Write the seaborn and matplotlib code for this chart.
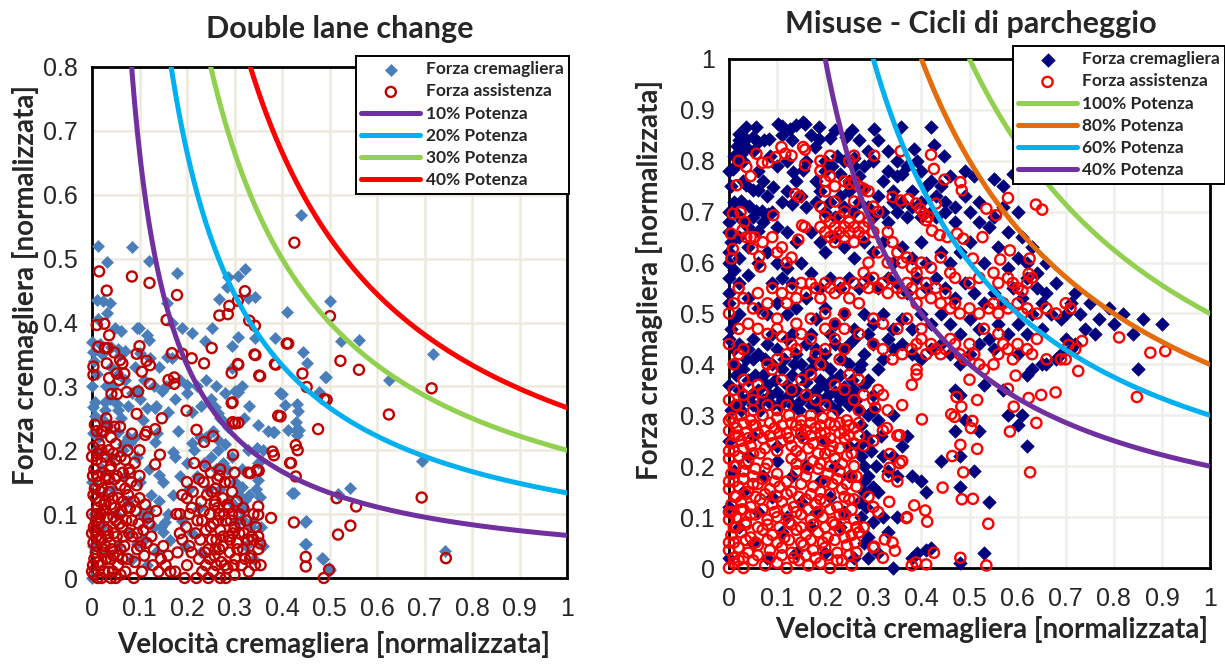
import numpy as np
import matplotlib
matplotlib.use("Agg")
import matplotlib.pyplot as plt
import seaborn as sns
from matplotlib.ticker import MultipleLocator, FuncFormatter

# ---------------- Double lane change (left) ----------------
dlc_crem_upper = [
    (0.013, 0.52), (0.084, 0.518), (0.031, 0.494), (0.121, 0.497), (0.179, 0.478), (0.01, 0.436),
    (0.024, 0.434), (0.038, 0.43), (0.031, 0.415), (0.013, 0.405), (0.157, 0.43), (0.169, 0.4),
    (0.094, 0.392), (0.098, 0.392), (0.048, 0.391), (0.062, 0.386), (0.19, 0.392), (0.21, 0.384),
    (0.252, 0.392), (0.268, 0.437), (0.287, 0.472), (0.307, 0.473), (0.322, 0.483), (0.284, 0.455),
    (0.329, 0.438), (0.343, 0.44), (0.41, 0.416), (0.501, 0.433), (0.44, 0.568), (0.0, 0.37),
    (0.002, 0.354), (0.017, 0.367), (0.041, 0.362), (0.055, 0.358), (0.069, 0.356), (0.115, 0.381),
    (0.121, 0.373), (0.101, 0.352), (0.157, 0.346), (0.169, 0.344), (0.122, 0.344), (0.238, 0.371),
    (0.295, 0.363), (0.307, 0.378), (0.343, 0.375), (0.385, 0.376), (0.445, 0.354), (0.452, 0.336),
    (0.491, 0.315), (0.294, 0.328), (0.301, 0.292), (0.307, 0.291), (0.396, 0.289), (0.406, 0.271),
    (0.432, 0.272), (0.147, 0.292), (0.199, 0.302), (0.097, 0.294), (0.006, 0.276), (0.027, 0.276),
    (0.038, 0.281), (0.259, 0.268), (0.059, 0.349), (0.562, 0.373), (0.524, 0.371), (0.625, 0.31),
    (0.718, 0.35), (0.694, 0.183), (0.744, 0.043), (0.518, 0.132), (0.544, 0.141), (0.45, 0.089),
    (0.45, 0.054), (0.487, 0.029), (0.498, 0.016), (0.492, 0.314), (0.429, 0.245), (0.429, 0.231),
    (0.435, 0.231), (0.425, 0.133), (0.384, 0.229), (0.401, 0.288), (0.433, 0.262), (0.477, 0.291),
]
dlc_crem_lower = [
    (0.115, 0.266), (0.133, 0.266), (0.382, 0.229), (0.413, 0.232), (0.431, 0.224), (0.35, 0.153),
    (0.354, 0.127), (0.42, 0.133), (0.448, 0.088), (0.448, 0.054), (0.485, 0.031), (0.501, 0.012),
    (0.329, 0.2), (0.347, 0.203), (0.315, 0.143), (0.322, 0.122), (0.171, 0.198), (0.14, 0.161),
    (0.15, 0.072), (0.154, 0.088), (0.115, 0.093), (0.119, 0.106), (0.094, 0.054), (0.21, 0.211),
    (0.227, 0.221), (0.266, 0.216), (0.287, 0.237), (0.301, 0.112), (0.315, 0.106), (0.315, 0.092),
    (0.336, 0.088), (0.266, 0.258), (0.273, 0.247), (0.076, 0.221), (0.08, 0.211), (0.055, 0.229),
    (0.066, 0.2), (0.027, 0.263), (0.006, 0.253), (0.003, 0.227), (0.024, 0.247), (0.003, 0.268),
    (0.052, 0.273), (0.055, 0.263), (0.108, 0.247), (0.133, 0.213), (0.136, 0.227),
    (0.0, 0.0), (0.002, 0.05), (0.005, 0.1), (0.0, 0.15), (0.008, 0.2), (0.015, 0.22), (0.02, 0.17),
    (0.025, 0.13), (0.018, 0.08), (0.03, 0.04), (0.035, 0.24), (0.04, 0.19), (0.045, 0.14),
    (0.05, 0.1), (0.055, 0.05), (0.06, 0.25), (0.065, 0.21), (0.07, 0.16), (0.075, 0.12),
    (0.08, 0.07), (0.085, 0.03), (0.09, 0.22), (0.095, 0.19), (0.1, 0.15), (0.105, 0.1),
    (0.11, 0.06), (0.115, 0.02), (0.12, 0.17), (0.125, 0.13), (0.13, 0.08), (0.135, 0.04),
    (0.14, 0.12), (0.145, 0.08), (0.15, 0.15), (0.16, 0.1), (0.165, 0.06), (0.17, 0.13),
    (0.175, 0.19), (0.18, 0.23), (0.185, 0.16), (0.19, 0.09), (0.195, 0.05), (0.2, 0.18),
    (0.205, 0.14), (0.21, 0.07), (0.215, 0.2), (0.22, 0.16), (0.225, 0.11), (0.23, 0.04),
    (0.235, 0.18), (0.24, 0.22), (0.245, 0.14), (0.25, 0.19), (0.255, 0.23), (0.26, 0.17),
    (0.265, 0.2), (0.27, 0.14), (0.275, 0.18), (0.28, 0.21), (0.285, 0.17), (0.29, 0.12),
    (0.295, 0.19), (0.3, 0.15), (0.305, 0.09), (0.31, 0.13), (0.315, 0.17), (0.32, 0.11),
    (0.325, 0.05), (0.33, 0.13), (0.335, 0.08), (0.34, 0.03), (0.345, 0.14), (0.35, 0.18),
    (0.355, 0.08), (0.36, 0.05), (0.0, 0.3), (0.01, 0.32), (0.02, 0.35), (0.005, 0.34),
    (0.03, 0.3), (0.04, 0.33), (0.045, 0.3), (0.055, 0.32), (0.07, 0.31), (0.075, 0.27),
    (0.085, 0.29), (0.09, 0.33), (0.1, 0.28), (0.11, 0.31), (0.13, 0.3), (0.135, 0.27),
    (0.14, 0.33), (0.155, 0.3), (0.16, 0.26), (0.175, 0.28), (0.185, 0.31), (0.2, 0.29),
    (0.21, 0.26), (0.22, 0.3), (0.23, 0.27), (0.24, 0.31), (0.25, 0.28), (0.26, 0.3),
    (0.27, 0.25), (0.28, 0.29), (0.32, 0.25), (0.315, 0.3), (0.33, 0.27), (0.35, 0.24),
    (0.36, 0.2), (0.37, 0.23),
]
dlc_assist_upper = [
    (0.015, 0.48), (0.084, 0.472), (0.121, 0.462), (0.031, 0.45), (0.179, 0.443), (0.426, 0.525),
    (0.157, 0.404), (0.01, 0.396), (0.026, 0.398), (0.036, 0.38), (0.322, 0.449), (0.307, 0.434),
    (0.289, 0.426), (0.268, 0.411), (0.286, 0.413), (0.331, 0.403), (0.343, 0.395), (0.501, 0.41),
    (0.013, 0.362), (0.027, 0.36), (0.033, 0.36), (0.047, 0.353), (0.059, 0.341), (0.064, 0.336),
    (0.1, 0.363), (0.094, 0.351), (0.115, 0.34), (0.122, 0.333), (0.031, 0.336), (0.003, 0.331),
    (0.003, 0.318), (0.036, 0.313), (0.052, 0.32), (0.068, 0.32), (0.057, 0.31), (0.105, 0.323),
    (0.122, 0.304), (0.097, 0.292), (0.041, 0.288), (0.053, 0.288), (0.073, 0.291), (0.168, 0.352),
    (0.19, 0.351), (0.21, 0.344), (0.236, 0.336), (0.252, 0.36), (0.161, 0.31), (0.173, 0.314),
    (0.173, 0.304), (0.294, 0.321), (0.307, 0.335), (0.342, 0.35), (0.352, 0.317), (0.385, 0.335),
    (0.41, 0.367), (0.443, 0.32), (0.452, 0.299), (0.489, 0.28), (0.294, 0.274), (0.745, 0.031),
    (0.694, 0.126), (0.715, 0.297), (0.625, 0.256), (0.562, 0.326), (0.523, 0.34), (0.494, 0.279),
    (0.476, 0.233), (0.429, 0.208), (0.433, 0.2), (0.419, 0.18), (0.429, 0.159), (0.383, 0.192),
    (0.397, 0.253), (0.387, 0.334), (0.413, 0.367), (0.354, 0.316), (0.344, 0.349), (0.296, 0.275),
    (0.296, 0.244), (0.308, 0.334), (0.297, 0.193), (0.425, 0.087), (0.45, 0.033), (0.45, 0.018),
    (0.488, 0.0), (0.499, 0.013), (0.518, 0.068), (0.515, 0.125), (0.556, 0.112), (0.544, 0.082),
    (0.377, 0.094), (0.351, 0.168), (0.334, 0.164), (0.094, 0.257), (0.147, 0.25), (0.199, 0.262),
    (0.392, 0.254), (0.417, 0.18), (0.38, 0.198), (0.301, 0.242), (0.308, 0.243), (0.22, 0.232),
    (0.236, 0.213), (0.255, 0.222), (0.143, 0.193), (0.133, 0.178), (0.112, 0.224), (0.115, 0.229),
    (0.133, 0.233), (0.347, 0.169), (0.329, 0.165), (0.35, 0.112), (0.35, 0.099), (0.354, 0.054),
    (0.336, 0.065), (0.343, 0.02), (0.333, 0.031), (0.006, 0.24), (0.024, 0.229), (0.031, 0.237),
    (0.047, 0.237), (0.059, 0.237), (0.084, 0.226),
]
dlc_assist_low_a = [
    (0.0, 0.01), (0.005, 0.03), (0.01, 0.05), (0.0, 0.07), (0.008, 0.09), (0.012, 0.11), (0.003, 0.13),
    (0.015, 0.15), (0.005, 0.17), (0.0, 0.19), (0.018, 0.02), (0.022, 0.04), (0.02, 0.06), (0.025, 0.08),
    (0.018, 0.1), (0.028, 0.12), (0.022, 0.14), (0.03, 0.16), (0.02, 0.18), (0.035, 0.2), (0.035, 0.01),
    (0.04, 0.03), (0.038, 0.055), (0.032, 0.075), (0.045, 0.095), (0.04, 0.115), (0.036, 0.135),
    (0.048, 0.155), (0.04, 0.175), (0.045, 0.195), (0.05, 0.0), (0.055, 0.02), (0.06, 0.045),
    (0.052, 0.065), (0.058, 0.085), (0.062, 0.105), (0.055, 0.125), (0.06, 0.145), (0.065, 0.165),
    (0.07, 0.185), (0.07, 0.01), (0.075, 0.03), (0.068, 0.05), (0.078, 0.07), (0.072, 0.09),
    (0.08, 0.11), (0.076, 0.13), (0.082, 0.15), (0.078, 0.17), (0.088, 0.0), (0.09, 0.025),
    (0.095, 0.045), (0.085, 0.065), (0.098, 0.085), (0.092, 0.105), (0.1, 0.125), (0.094, 0.145),
    (0.1, 0.16), (0.105, 0.01), (0.11, 0.035), (0.115, 0.055), (0.108, 0.075), (0.118, 0.095),
    (0.112, 0.115), (0.12, 0.085), (0.128, 0.02), (0.13, 0.045), (0.125, 0.065), (0.135, 0.105),
    (0.14, 0.01), (0.145, 0.03), (0.15, 0.05), (0.155, 0.02), (0.16, 0.035), (0.165, 0.01),
    (0.002, 0.02), (0.008, 0.04), (0.014, 0.06), (0.004, 0.08), (0.01, 0.1), (0.016, 0.12),
    (0.006, 0.14), (0.012, 0.16), (0.026, 0.01), (0.03, 0.03), (0.028, 0.05), (0.012, 0.0),
    (0.032, 0.095), (0.042, 0.045), (0.046, 0.07), (0.05, 0.09), (0.015, 0.085), (0.024, 0.105),
    (0.003, 0.055), (0.009, 0.065), (0.0, 0.1), (0.02, 0.0), (0.04, 0.0), (0.06, 0.005),
    (0.065, 0.065), (0.043, 0.125), (0.01, 0.185), (0.02, 0.2), (0.003, 0.205), (0.015, 0.21),
    (0.01, 0.23), (0.04, 0.22), (0.05, 0.185), (0.06, 0.19), (0.075, 0.2), (0.08, 0.165),
    (0.09, 0.18), (0.1, 0.2),
    (0.004, 0.005), (0.014, 0.025), (0.024, 0.045), (0.034, 0.065), (0.006, 0.075), (0.016, 0.095),
    (0.026, 0.115), (0.036, 0.155), (0.008, 0.125), (0.018, 0.135), (0.028, 0.155), (0.002, 0.16),
    (0.044, 0.01), (0.054, 0.035), (0.064, 0.03), (0.048, 0.11), (0.058, 0.1), (0.066, 0.12),
    (0.07, 0.14), (0.038, 0.17), (0.026, 0.19), (0.012, 0.195), (0.052, 0.16), (0.084, 0.09),
    (0.074, 0.11), (0.088, 0.12), (0.095, 0.07), (0.102, 0.05), (0.064, 0.08), (0.045, 0.035),
    (0.02, 0.23), (0.03, 0.25), (0.05, 0.21),
]
dlc_assist_low_b = [
    (0.175, 0.01), (0.18, 0.04), (0.185, 0.07), (0.178, 0.1), (0.19, 0.13), (0.2, 0.02), (0.205, 0.05),
    (0.198, 0.08), (0.21, 0.11), (0.2, 0.15), (0.215, 0.18), (0.22, 0.0), (0.225, 0.03), (0.228, 0.06),
    (0.222, 0.09), (0.23, 0.12), (0.235, 0.15), (0.24, 0.02), (0.245, 0.045), (0.24, 0.075),
    (0.248, 0.1), (0.242, 0.13), (0.25, 0.165), (0.255, 0.01), (0.258, 0.035), (0.262, 0.06),
    (0.256, 0.085), (0.265, 0.11), (0.26, 0.14), (0.268, 0.16), (0.27, 0.0), (0.272, 0.025),
    (0.275, 0.05), (0.27, 0.075), (0.278, 0.1), (0.275, 0.125), (0.28, 0.15), (0.285, 0.015),
    (0.29, 0.04), (0.288, 0.065), (0.292, 0.09), (0.285, 0.115), (0.295, 0.135), (0.3, 0.005),
    (0.302, 0.03), (0.305, 0.055), (0.3, 0.08), (0.31, 0.1), (0.305, 0.12), (0.315, 0.02),
    (0.318, 0.045), (0.32, 0.07), (0.325, 0.09), (0.33, 0.01), (0.335, 0.035), (0.34, 0.06),
    (0.345, 0.08), (0.35, 0.045), (0.34, 0.1), (0.355, 0.02), (0.35, 0.065), (0.21, 0.04),
    (0.25, 0.08), (0.26, 0.12), (0.265, 0.09), (0.29, 0.06), (0.28, 0.02), (0.295, 0.1),
    (0.31, 0.07), (0.235, 0.105), (0.26, 0.045), (0.245, 0.0), (0.195, 0.0), (0.205, 0.1),
    (0.29, 0.15), (0.3, 0.165), (0.27, 0.17),
    (0.232, 0.01), (0.238, 0.04), (0.252, 0.06), (0.248, 0.03), (0.262, 0.02), (0.268, 0.045),
    (0.276, 0.065), (0.282, 0.09), (0.288, 0.11), (0.268, 0.1), (0.258, 0.115), (0.252, 0.135),
    (0.264, 0.155), (0.296, 0.07), (0.306, 0.045), (0.312, 0.085), (0.298, 0.02), (0.282, 0.0),
    (0.232, 0.09), (0.218, 0.07), (0.212, 0.135), (0.225, 0.155), (0.238, 0.175), (0.19, 0.06),
    (0.185, 0.1), (0.2, 0.125), (0.322, 0.03), (0.328, 0.06), (0.318, 0.11),
]
dlc_power = ["10% Potenza", "20% Potenza", "30% Potenza", "40% Potenza"]
dlc_force_at_full_speed = [0.0667, 0.1333, 0.2, 0.2667]
dlc_colors = ["#7030A0", "#00B0F0", "#92D050", "#FF0000"]

# ---------------- Misuse - Cicli di parcheggio (right) ----------------
mis_crem_top = [
    (0.02, 0.853), (0.036, 0.866), (0.057, 0.867), (0.101, 0.873), (0.11, 0.869), (0.126, 0.863),
    (0.154, 0.876), (0.158, 0.873), (0.187, 0.867), (0.255, 0.861), (0.302, 0.863), (0.358, 0.867),
    (0.42, 0.866), (0.426, 0.832), (0.448, 0.81), (0.385, 0.824), (0.243, 0.846), (0.211, 0.845),
    (0.187, 0.843), (0.178, 0.827), (0.036, 0.843), (0.049, 0.846), (0.061, 0.837), (0.073, 0.841),
    (0.083, 0.843), (0.016, 0.83), (0.024, 0.814), (0.036, 0.827), (0.008, 0.784), (0.016, 0.794),
    (0.134, 0.778), (0.154, 0.781), (0.2, 0.8), (0.215, 0.79), (0.225, 0.81), (0.24, 0.8),
    (0.26, 0.805), (0.28, 0.79), (0.3, 0.8), (0.27, 0.77), (0.25, 0.76), (0.23, 0.775),
    (0.33, 0.78), (0.35, 0.77), (0.36, 0.775), (0.37, 0.79), (0.39, 0.8), (0.4, 0.78),
    (0.42, 0.76), (0.44, 0.75), (0.46, 0.77), (0.49, 0.78), (0.51, 0.77), (0.55, 0.765),
    (0.57, 0.75), (0.59, 0.775), (0.62, 0.78), (0.1, 0.79), (0.12, 0.8), (0.085, 0.81),
    (0.005, 0.47), (0.01, 0.49), (0.0, 0.54), (0.01, 0.585), (0.0, 0.62), (0.005, 0.64), (0.0, 0.7),
    (0.01, 0.72), (0.005, 0.75), (0.0, 0.78), (0.01, 0.81), (0.02, 0.84), (0.03, 0.8), (0.05, 0.82),
    (0.06, 0.78), (0.07, 0.76), (0.08, 0.73), (0.03, 0.76), (0.02, 0.65), (0.05, 0.69), (0.07, 0.68),
    (0.09, 0.7), (0.12, 0.74), (0.14, 0.76), (0.16, 0.8), (0.17, 0.85), (0.13, 0.84), (0.11, 0.85),
    (0.14, 0.87), (0.22, 0.86), (0.27, 0.84), (0.29, 0.82), (0.31, 0.84), (0.33, 0.82), (0.35, 0.8),
    (0.18, 0.76), (0.2, 0.78), (0.26, 0.79), (0.32, 0.76), (0.34, 0.74), (0.36, 0.72), (0.38, 0.74),
    (0.4, 0.72), (0.41, 0.75), (0.43, 0.73), (0.45, 0.72), (0.47, 0.71), (0.49, 0.73), (0.52, 0.72),
    (0.54, 0.67), (0.58, 0.66), (0.61, 0.65), (0.63, 0.63), (0.62, 0.57), (0.64, 0.55), (0.66, 0.54),
    (0.7, 0.5), (0.74, 0.47), (0.76, 0.46), (0.8, 0.48), (0.84, 0.46),
]
mis_crem_mid = [
    (0.036, 0.752), (0.049, 0.742), (0.061, 0.742), (0.092, 0.748), (0.024, 0.722), (0.041, 0.712),
    (0.057, 0.702), (0.069, 0.702), (0.081, 0.696), (0.016, 0.696), (0.028, 0.683), (0.04, 0.67),
    (0.06, 0.663), (0.0, 0.68), (0.0, 0.66), (0.11, 0.72), (0.13, 0.715), (0.15, 0.73), (0.16, 0.71),
    (0.18, 0.72), (0.19, 0.74), (0.2, 0.7), (0.21, 0.72), (0.22, 0.69), (0.23, 0.73), (0.24, 0.71),
    (0.25, 0.74), (0.26, 0.7), (0.27, 0.72), (0.28, 0.745), (0.29, 0.71), (0.3, 0.69), (0.31, 0.73),
    (0.32, 0.7), (0.33, 0.68), (0.34, 0.72), (0.35, 0.7), (0.37, 0.69), (0.38, 0.71), (0.4, 0.69),
    (0.42, 0.7), (0.43, 0.69), (0.45, 0.7), (0.47, 0.68), (0.5, 0.7), (0.52, 0.68), (0.55, 0.69),
    (0.57, 0.71), (0.6, 0.7), (0.1, 0.67), (0.12, 0.66), (0.14, 0.64), (0.17, 0.66), (0.19, 0.64),
    (0.2, 0.62), (0.22, 0.65), (0.24, 0.63), (0.26, 0.61), (0.28, 0.64), (0.3, 0.62), (0.32, 0.64),
    (0.34, 0.6), (0.36, 0.63), (0.38, 0.61), (0.4, 0.64), (0.41, 0.6), (0.44, 0.62), (0.46, 0.6),
    (0.48, 0.62), (0.5, 0.64), (0.53, 0.6), (0.56, 0.63), (0.58, 0.59), (0.6, 0.61), (0.62, 0.6),
    (0.64, 0.58), (0.66, 0.6), (0.08, 0.62), (0.06, 0.6), (0.04, 0.63), (0.02, 0.61), (0.0, 0.6),
    (0.1, 0.6), (0.12, 0.59), (0.15, 0.6), (0.17, 0.58), (0.09, 0.56), (0.11, 0.57), (0.13, 0.56),
    (0.0, 0.57), (0.02, 0.56), (0.04, 0.575),
    (0.19, 0.55), (0.21, 0.57), (0.23, 0.55), (0.25, 0.57), (0.27, 0.55), (0.29, 0.57), (0.31, 0.55),
    (0.33, 0.57), (0.35, 0.56), (0.37, 0.54), (0.39, 0.57), (0.41, 0.55), (0.43, 0.57), (0.45, 0.55),
    (0.47, 0.53), (0.49, 0.56), (0.51, 0.54), (0.53, 0.52), (0.55, 0.54), (0.57, 0.52), (0.59, 0.55),
    (0.61, 0.53), (0.63, 0.5), (0.65, 0.52), (0.67, 0.5), (0.69, 0.49), (0.71, 0.52), (0.73, 0.5),
    (0.75, 0.52), (0.77, 0.49), (0.79, 0.51), (0.82, 0.5), (0.86, 0.49), (0.9, 0.48), (0.68, 0.56),
    (0.72, 0.54), (0.0, 0.52), (0.02, 0.5), (0.04, 0.53), (0.06, 0.51), (0.08, 0.5), (0.1, 0.52),
    (0.12, 0.5), (0.14, 0.51), (0.16, 0.53), (0.18, 0.49), (0.2, 0.51), (0.22, 0.48), (0.24, 0.5),
    (0.26, 0.47), (0.28, 0.5), (0.3, 0.48), (0.32, 0.5), (0.34, 0.47), (0.36, 0.49), (0.38, 0.47),
    (0.4, 0.5), (0.42, 0.48), (0.44, 0.5), (0.46, 0.48), (0.48, 0.46), (0.5, 0.49), (0.52, 0.47),
    (0.54, 0.45), (0.56, 0.48), (0.58, 0.46), (0.6, 0.48), (0.62, 0.46), (0.65, 0.47), (0.7, 0.45),
    (0.72, 0.44), (0.85, 0.39),
]
mis_crem_low = [
    (0.0, 0.45), (0.02, 0.44), (0.04, 0.43), (0.06, 0.42), (0.08, 0.44), (0.1, 0.43), (0.12, 0.45),
    (0.14, 0.42), (0.16, 0.44), (0.18, 0.43), (0.2, 0.42), (0.22, 0.44), (0.24, 0.43), (0.26, 0.45),
    (0.28, 0.42), (0.3, 0.44), (0.32, 0.41), (0.34, 0.43), (0.36, 0.44), (0.38, 0.42), (0.4, 0.41),
    (0.42, 0.43), (0.44, 0.44), (0.46, 0.42), (0.48, 0.4), (0.5, 0.42), (0.52, 0.44), (0.55, 0.43),
    (0.6, 0.42), (0.65, 0.4), (0.01, 0.4), (0.03, 0.39), (0.05, 0.41), (0.07, 0.38), (0.09, 0.4),
    (0.11, 0.39), (0.13, 0.38), (0.15, 0.4), (0.17, 0.39), (0.19, 0.37), (0.21, 0.39), (0.23, 0.38),
    (0.25, 0.4), (0.27, 0.39), (0.29, 0.37), (0.31, 0.39), (0.0, 0.36), (0.02, 0.35), (0.04, 0.37),
    (0.06, 0.35), (0.08, 0.36), (0.1, 0.345), (0.12, 0.36), (0.14, 0.35), (0.16, 0.365), (0.18, 0.35),
    (0.2, 0.36), (0.22, 0.345), (0.24, 0.355), (0.26, 0.35), (0.28, 0.36), (0.3, 0.34), (0.01, 0.32),
    (0.03, 0.33), (0.05, 0.32), (0.07, 0.33), (0.09, 0.32), (0.11, 0.33), (0.13, 0.32), (0.15, 0.33),
    (0.17, 0.32), (0.19, 0.33), (0.21, 0.32), (0.23, 0.33), (0.25, 0.32), (0.27, 0.31), (0.29, 0.3),
    (0.31, 0.29), (0.3, 0.31), (0.34, 0.3), (0.37, 0.26), (0.36, 0.24), (0.34, 0.22), (0.33, 0.19),
    (0.35, 0.18), (0.38, 0.18), (0.4, 0.17), (0.41, 0.15), (0.3, 0.16), (0.31, 0.15), (0.32, 0.1),
    (0.33, 0.07), (0.35, 0.1), (0.3, 0.09), (0.29, 0.06), (0.28, 0.2), (0.27, 0.24), (0.47, 0.35),
    (0.48, 0.34), (0.47, 0.27), (0.49, 0.29), (0.44, 0.21), (0.48, 0.16), (0.48, 0.22), (0.51, 0.19),
    (0.52, 0.27), (0.53, 0.36), (0.54, 0.13), (0.53, 0.03), (0.39, 0.03), (0.38, 0.02), (0.41, 0.035),
    (0.42, 0.04), (0.48, 0.01), (0.34, 0.0), (0.62, 0.24), (0.6, 0.28), (0.61, 0.3), (0.58, 0.3),
    (0.57, 0.35), (0.63, 0.39), (0.62, 0.38), (0.66, 0.4), (0.68, 0.41), (0.69, 0.42), (0.71, 0.43),
    (0.0, 0.02), (0.02, 0.08), (0.05, 0.05), (0.08, 0.02), (0.11, 0.07), (0.14, 0.03), (0.17, 0.08),
    (0.2, 0.03), (0.23, 0.08), (0.26, 0.02), (0.28, 0.05), (0.0, 0.12), (0.03, 0.15), (0.06, 0.11),
    (0.09, 0.14), (0.12, 0.1), (0.15, 0.13), (0.18, 0.11), (0.21, 0.14), (0.24, 0.11), (0.27, 0.13),
    (0.01, 0.19), (0.04, 0.22), (0.07, 0.18), (0.1, 0.21), (0.13, 0.18), (0.16, 0.2), (0.19, 0.17),
    (0.22, 0.2), (0.25, 0.18), (0.28, 0.17), (0.0, 0.25), (0.05, 0.26), (0.1, 0.24), (0.15, 0.26),
    (0.2, 0.25), (0.25, 0.24), (0.29, 0.25),
    (0.005, 0.31), (0.025, 0.31), (0.045, 0.34), (0.065, 0.31), (0.085, 0.34), (0.105, 0.32),
    (0.125, 0.34), (0.145, 0.31), (0.165, 0.34), (0.185, 0.31), (0.205, 0.34), (0.225, 0.31),
    (0.245, 0.34), (0.265, 0.33), (0.015, 0.38), (0.035, 0.41), (0.055, 0.38), (0.075, 0.41),
    (0.095, 0.37), (0.115, 0.41), (0.135, 0.4), (0.155, 0.38), (0.175, 0.41), (0.195, 0.4),
    (0.215, 0.37), (0.235, 0.41), (0.255, 0.37), (0.275, 0.4), (0.01, 0.43), (0.05, 0.45),
    (0.09, 0.46), (0.13, 0.46), (0.17, 0.46), (0.21, 0.46), (0.25, 0.44), (0.29, 0.46), (0.33, 0.45),
    (0.275, 0.28), (0.285, 0.26), (0.295, 0.23), (0.275, 0.22), (0.29, 0.18), (0.28, 0.15),
    (0.285, 0.12), (0.275, 0.1), (0.29, 0.02), (0.31, 0.03), (0.305, 0.2), (0.32, 0.22), (0.315, 0.26),
]
mis_assist_top = [
    (0.02, 0.8), (0.016, 0.752), (0.008, 0.696), (0.004, 0.657), (0.008, 0.627), (0.005, 0.608),
    (0.024, 0.699), (0.032, 0.68), (0.028, 0.663), (0.036, 0.65), (0.045, 0.65), (0.053, 0.65),
    (0.049, 0.627), (0.063, 0.612), (0.065, 0.592), (0.057, 0.814), (0.036, 0.788), (0.045, 0.77),
    (0.069, 0.796), (0.081, 0.797), (0.097, 0.807), (0.109, 0.827), (0.117, 0.814), (0.13, 0.81),
    (0.092, 0.693), (0.138, 0.735), (0.146, 0.729), (0.144, 0.645), (0.154, 0.827), (0.158, 0.822),
    (0.158, 0.791), (0.152, 0.673), (0.158, 0.67), (0.19, 0.8), (0.19, 0.78), (0.2, 0.76),
    (0.21, 0.77), (0.2, 0.74), (0.22, 0.75), (0.24, 0.76), (0.25, 0.755), (0.26, 0.76), (0.27, 0.75),
    (0.28, 0.745), (0.29, 0.74), (0.21, 0.81), (0.25, 0.8), (0.26, 0.81), (0.19, 0.71), (0.2, 0.69),
    (0.19, 0.67), (0.21, 0.68), (0.2, 0.66), (0.21, 0.65), (0.22, 0.67), (0.22, 0.64), (0.23, 0.66),
    (0.23, 0.69), (0.24, 0.67), (0.24, 0.65), (0.25, 0.68), (0.25, 0.66), (0.26, 0.64), (0.26, 0.67),
    (0.27, 0.66), (0.27, 0.69), (0.28, 0.67), (0.28, 0.65), (0.29, 0.68), (0.3, 0.66), (0.24, 0.7),
    (0.26, 0.72), (0.22, 0.72), (0.3, 0.71), (0.31, 0.7), (0.302, 0.81), (0.357, 0.819), (0.42, 0.812),
    (0.426, 0.784), (0.448, 0.763), (0.481, 0.758), (0.484, 0.742), (0.535, 0.706), (0.555, 0.693),
    (0.58, 0.727), (0.638, 0.714), (0.651, 0.704), (0.34, 0.729), (0.357, 0.722), (0.373, 0.725),
    (0.389, 0.716), (0.397, 0.706), (0.405, 0.696), (0.414, 0.69), (0.43, 0.716), (0.41, 0.683),
    (0.422, 0.663), (0.438, 0.654), (0.454, 0.65), (0.474, 0.657), (0.487, 0.647), (0.527, 0.65),
    (0.507, 0.608), (0.564, 0.606), (0.584, 0.624), (0.625, 0.608), (0.623, 0.578), (0.33, 0.66),
    (0.34, 0.64), (0.35, 0.62), (0.36, 0.6), (0.37, 0.61), (0.38, 0.59), (0.39, 0.58), (0.4, 0.6),
    (0.42, 0.59), (0.44, 0.61), (0.46, 0.58), (0.33, 0.6), (0.31, 0.62), (0.29, 0.6), (0.28, 0.58),
    (0.1, 0.62), (0.12, 0.6), (0.13, 0.61), (0.07, 0.64), (0.09, 0.65), (0.11, 0.63),
]
mis_assist_band = [
    (0.0, 0.5), (0.01, 0.52), (0.02, 0.55), (0.03, 0.53), (0.05, 0.51), (0.06, 0.54), (0.07, 0.5),
    (0.08, 0.52), (0.09, 0.55), (0.11, 0.54), (0.12, 0.52), (0.13, 0.55), (0.14, 0.53), (0.15, 0.56),
    (0.16, 0.54), (0.17, 0.56), (0.18, 0.55), (0.19, 0.53), (0.2, 0.56), (0.21, 0.55), (0.22, 0.54),
    (0.23, 0.56), (0.24, 0.55), (0.25, 0.53), (0.26, 0.56), (0.27, 0.52), (0.28, 0.56), (0.29, 0.55),
    (0.3, 0.57), (0.31, 0.55), (0.32, 0.56), (0.33, 0.54), (0.34, 0.57), (0.35, 0.55), (0.36, 0.54),
    (0.37, 0.56), (0.38, 0.55), (0.39, 0.52), (0.4, 0.54), (0.41, 0.56), (0.42, 0.53), (0.43, 0.55),
    (0.44, 0.52), (0.45, 0.54), (0.46, 0.51), (0.47, 0.52), (0.48, 0.5), (0.5, 0.51), (0.52, 0.5),
    (0.54, 0.51), (0.55, 0.52), (0.56, 0.5), (0.57, 0.52), (0.58, 0.51), (0.6, 0.52), (0.61, 0.5),
    (0.62, 0.51), (0.64, 0.5), (0.66, 0.51), (0.68, 0.5), (0.7, 0.52), (0.71, 0.51), (0.55, 0.58),
    (0.56, 0.56), (0.58, 0.57), (0.59, 0.56), (0.6, 0.55), (0.61, 0.545), (0.62, 0.56), (0.63, 0.57),
    (0.52, 0.57), (0.5, 0.56), (0.47, 0.57), (0.2, 0.5), (0.22, 0.48), (0.24, 0.5), (0.17, 0.49),
    (0.14, 0.48), (0.1, 0.49), (0.04, 0.48), (0.02, 0.47), (0.37, 0.49), (0.4, 0.47), (0.35, 0.47),
    (0.32, 0.48), (0.53, 0.47), (0.56, 0.46), (0.3, 0.49),
]
mis_assist_mid = [
    (0.01, 0.4), (0.02, 0.42), (0.0, 0.44), (0.03, 0.43), (0.03, 0.37), (0.04, 0.355), (0.06, 0.36),
    (0.07, 0.345), (0.09, 0.39), (0.1, 0.41), (0.08, 0.4), (0.12, 0.42), (0.13, 0.44), (0.11, 0.455),
    (0.14, 0.43), (0.15, 0.46), (0.17, 0.45), (0.18, 0.42), (0.19, 0.4), (0.2, 0.43), (0.22, 0.45),
    (0.24, 0.43), (0.23, 0.41), (0.25, 0.38), (0.27, 0.37), (0.11, 0.37), (0.13, 0.35), (0.15, 0.37),
    (0.17, 0.38), (0.16, 0.34), (0.18, 0.33), (0.2, 0.32), (0.22, 0.36), (0.24, 0.35), (0.26, 0.33),
    (0.28, 0.34), (0.3, 0.33), (0.32, 0.34), (0.33, 0.31), (0.27, 0.31), (0.08, 0.32), (0.1, 0.31),
    (0.12, 0.32), (0.05, 0.31), (0.06, 0.47), (0.08, 0.46), (0.1, 0.47), (0.2, 0.47), (0.24, 0.47),
    (0.27, 0.46), (0.3, 0.44), (0.32, 0.43), (0.31, 0.35), (0.34, 0.41), (0.36, 0.42), (0.38, 0.43),
    (0.39, 0.44), (0.4, 0.45), (0.41, 0.42), (0.42, 0.44), (0.43, 0.43), (0.44, 0.42), (0.45, 0.43),
    (0.46, 0.45), (0.47, 0.44), (0.48, 0.42), (0.49, 0.41), (0.5, 0.44), (0.52, 0.4), (0.51, 0.42),
    (0.53, 0.39), (0.55, 0.4), (0.56, 0.42), (0.57, 0.44), (0.58, 0.43), (0.59, 0.41), (0.6, 0.44),
    (0.62, 0.43), (0.63, 0.42), (0.64, 0.45), (0.66, 0.41), (0.69, 0.41), (0.7, 0.41), (0.72, 0.43),
    (0.726, 0.387), (0.811, 0.453), (0.848, 0.336), (0.876, 0.423), (0.907, 0.426), (0.734, 0.446),
    (0.706, 0.438), (0.679, 0.345), (0.649, 0.34), (0.639, 0.285), (0.626, 0.188), (0.623, 0.334),
    (0.584, 0.268), (0.592, 0.317), (0.58, 0.352), (0.596, 0.378), (0.516, 0.33), (0.516, 0.234),
    (0.507, 0.136), (0.484, 0.135), (0.487, 0.188), (0.481, 0.242), (0.469, 0.297), (0.462, 0.302),
    (0.473, 0.336), (0.483, 0.317), (0.506, 0.289), (0.503, 0.275), (0.5, 0.37), (0.539, 0.087),
    (0.535, 0.005), (0.444, 0.158), (0.464, 0.22), (0.481, 0.02), (0.426, 0.03), (0.41, 0.007),
    (0.389, 0.011), (0.38, 0.005), (0.412, 0.091), (0.408, 0.113), (0.385, 0.123), (0.369, 0.098),
    (0.401, 0.292), (0.355, 0.261), (0.355, 0.206), (0.334, 0.224), (0.334, 0.197), (0.333, 0.13),
    (0.302, 0.042), (0.324, 0.056), (0.345, 0.034), (0.328, 0.275), (0.304, 0.315), (0.39, 0.39),
    (0.39, 0.38), (0.38, 0.36), (0.36, 0.32), (0.35, 0.26), (0.36, 0.21), (0.35, 0.17), (0.33, 0.18),
    (0.32, 0.27), (0.3, 0.25), (0.28, 0.24), (0.3, 0.12), (0.29, 0.14), (0.31, 0.11), (0.28, 0.08),
    (0.27, 0.07), (0.3, 0.04), (0.34, 0.05), (0.32, 0.02), (0.37, 0.1),
]
mis_assist_core = [
    (0.0, 0.0), (0.01, 0.01), (0.03, 0.0), (0.05, 0.015), (0.075, 0.005), (0.1, 0.01), (0.12, 0.0),
    (0.145, 0.015), (0.165, 0.005), (0.19, 0.01), (0.21, 0.0), (0.235, 0.015), (0.255, 0.005),
    (0.265, 0.03), (0.0, 0.035), (0.02, 0.04), (0.04, 0.03), (0.06, 0.045), (0.085, 0.035),
    (0.11, 0.04), (0.13, 0.03), (0.155, 0.045), (0.175, 0.035), (0.2, 0.04), (0.225, 0.03),
    (0.245, 0.045), (0.005, 0.065), (0.025, 0.07), (0.045, 0.06), (0.07, 0.075), (0.09, 0.065),
    (0.115, 0.06), (0.14, 0.075), (0.16, 0.065), (0.185, 0.07), (0.205, 0.06), (0.23, 0.075),
    (0.255, 0.065), (0.0, 0.095), (0.015, 0.1), (0.035, 0.09), (0.055, 0.105), (0.08, 0.095),
    (0.1, 0.1), (0.125, 0.09), (0.15, 0.105), (0.17, 0.095), (0.195, 0.1), (0.215, 0.09),
    (0.24, 0.105), (0.26, 0.095), (0.005, 0.125), (0.025, 0.13), (0.045, 0.12), (0.065, 0.135),
    (0.09, 0.125), (0.11, 0.13), (0.135, 0.12), (0.16, 0.135), (0.18, 0.125), (0.2, 0.13),
    (0.225, 0.12), (0.25, 0.135), (0.0, 0.155), (0.02, 0.16), (0.04, 0.15), (0.06, 0.165),
    (0.085, 0.155), (0.105, 0.16), (0.13, 0.15), (0.175, 0.16), (0.19, 0.15), (0.215, 0.165),
    (0.235, 0.155), (0.265, 0.16), (0.005, 0.185), (0.03, 0.19), (0.05, 0.18), (0.075, 0.195),
    (0.1, 0.185), (0.14, 0.19), (0.16, 0.18), (0.185, 0.195), (0.205, 0.185), (0.23, 0.19),
    (0.255, 0.18), (0.0, 0.215), (0.02, 0.22), (0.04, 0.21), (0.065, 0.225), (0.13, 0.215),
    (0.15, 0.22), (0.175, 0.21), (0.2, 0.225), (0.22, 0.215), (0.245, 0.22), (0.005, 0.245),
    (0.025, 0.25), (0.045, 0.24), (0.07, 0.255), (0.09, 0.245), (0.11, 0.25), (0.13, 0.24),
    (0.155, 0.255), (0.175, 0.245), (0.195, 0.25), (0.215, 0.24), (0.24, 0.255), (0.26, 0.245),
    (0.0, 0.27), (0.015, 0.275), (0.035, 0.265), (0.055, 0.28), (0.075, 0.27), (0.095, 0.275),
    (0.12, 0.265), (0.14, 0.28), (0.16, 0.27), (0.18, 0.275), (0.2, 0.265), (0.22, 0.28),
    (0.24, 0.27), (0.26, 0.275), (0.005, 0.295), (0.025, 0.3), (0.045, 0.29), (0.07, 0.3),
    (0.1, 0.295), (0.125, 0.3), (0.15, 0.29), (0.17, 0.3), (0.195, 0.295), (0.215, 0.3),
    (0.245, 0.29), (0.0, 0.05), (0.01, 0.08), (0.0, 0.11), (0.012, 0.14), (0.0, 0.17), (0.01, 0.2),
    (0.0, 0.23), (0.012, 0.26), (0.0, 0.29), (0.015, 0.32), (0.0, 0.33), (0.01, 0.35), (0.03, 0.34),
    (0.05, 0.33), (0.02, 0.015), (0.03, 0.115), (0.03, 0.175),
]
mis_assist_core_fill = [
    (0.01, 0.02), (0.03, 0.02), (0.06, 0.025), (0.085, 0.02), (0.11, 0.025), (0.135, 0.02),
    (0.16, 0.025), (0.18, 0.02), (0.205, 0.025), (0.225, 0.015), (0.25, 0.025), (0.01, 0.05),
    (0.035, 0.055), (0.055, 0.05), (0.08, 0.055), (0.1, 0.05), (0.125, 0.055), (0.15, 0.05),
    (0.17, 0.055), (0.195, 0.05), (0.22, 0.055), (0.24, 0.06), (0.262, 0.05), (0.015, 0.08),
    (0.035, 0.085), (0.06, 0.08), (0.08, 0.085), (0.105, 0.08), (0.13, 0.085), (0.15, 0.08),
    (0.175, 0.085), (0.2, 0.08), (0.22, 0.085), (0.245, 0.08), (0.265, 0.08), (0.005, 0.11),
    (0.025, 0.115), (0.045, 0.105), (0.07, 0.115), (0.095, 0.11), (0.12, 0.115), (0.14, 0.11),
    (0.165, 0.115), (0.185, 0.11), (0.21, 0.115), (0.23, 0.105), (0.255, 0.115), (0.015, 0.14),
    (0.035, 0.145), (0.055, 0.14), (0.075, 0.145), (0.1, 0.14), (0.12, 0.145), (0.145, 0.14),
    (0.17, 0.145), (0.19, 0.135), (0.21, 0.145), (0.24, 0.14), (0.26, 0.135), (0.01, 0.17),
    (0.03, 0.175), (0.05, 0.165), (0.07, 0.175), (0.095, 0.17), (0.12, 0.17), (0.15, 0.165),
    (0.2, 0.17), (0.225, 0.175), (0.245, 0.165), (0.265, 0.18), (0.015, 0.2), (0.035, 0.205),
    (0.055, 0.195), (0.08, 0.205), (0.14, 0.205), (0.165, 0.195), (0.19, 0.205), (0.21, 0.2),
    (0.235, 0.205), (0.26, 0.2), (0.01, 0.23), (0.03, 0.235), (0.05, 0.225), (0.075, 0.235),
    (0.1, 0.23), (0.14, 0.23), (0.165, 0.235), (0.185, 0.225), (0.21, 0.23), (0.23, 0.235),
    (0.255, 0.225), (0.02, 0.26), (0.04, 0.255), (0.06, 0.265), (0.085, 0.26), (0.105, 0.265),
    (0.125, 0.255), (0.15, 0.265), (0.17, 0.26), (0.19, 0.265), (0.21, 0.255), (0.23, 0.265),
    (0.25, 0.26), (0.27, 0.26), (0.01, 0.285), (0.03, 0.285), (0.05, 0.28), (0.085, 0.285),
    (0.11, 0.28), (0.13, 0.285), (0.15, 0.28), (0.17, 0.285), (0.19, 0.28), (0.21, 0.285),
    (0.23, 0.285), (0.25, 0.28), (0.27, 0.285),
]
mis_power = ["100% Potenza", "80% Potenza", "60% Potenza", "40% Potenza"]
mis_force_at_full_speed = [0.5, 0.4, 0.3, 0.2]
mis_colors = ["#92D050", "#E46C0A", "#00B0F0", "#7030A0"]

sns.set_style("white")
plt.rcParams["font.family"] = ["Liberation Sans", "DejaVu Sans"]
bold = {"family": ["Lato", "DejaVu Sans"], "weight": "bold"}

fig = plt.figure(figsize=(12.25, 6.66), dpi=100)
ax1 = fig.add_axes([92 / 1225, 1 - 578 / 666, 475 / 1225, 511 / 666])
ax2 = fig.add_axes([729 / 1225, 1 - 568 / 666, 481 / 1225, 509 / 666])


def draw_panel(ax, crem, assist, crem_col, assist_col, names, k_list, colors, ymax, d_size, o_size):
    cx, cy = zip(*crem)
    sns.scatterplot(x=list(cx), y=list(cy), marker="D", s=d_size, color=crem_col,
                    edgecolor=crem_col, linewidth=0.4, ax=ax, label="Forza cremagliera",
                    zorder=3, clip_on=False)
    ox, oy = zip(*assist)
    sns.scatterplot(x=list(ox), y=list(oy), marker="o", s=o_size, facecolors="none",
                    edgecolor=assist_col, linewidth=1.7, ax=ax, label="Forza assistenza",
                    zorder=4, clip_on=False)
    for name, k, col in zip(names, k_list, colors):
        # constant power curve: force * speed = k
        xs = np.linspace(k / ymax, 1, 300)
        sns.lineplot(x=xs, y=k / xs, color=col, linewidth=3.6, ax=ax, label=name,
                     sort=False, estimator=None, zorder=5)


def style_axes(ax, ymax, grid_col):
    ax.set_xlim(0, 1)
    ax.set_ylim(0, ymax)
    ax.xaxis.set_major_locator(MultipleLocator(0.1))
    ax.xaxis.set_minor_locator(MultipleLocator(0.02))
    ax.yaxis.set_major_locator(MultipleLocator(0.1))
    ax.yaxis.set_minor_locator(MultipleLocator(0.02))
    fmt = FuncFormatter(lambda v, p: f"{round(v, 2):g}")
    ax.xaxis.set_major_formatter(fmt)
    ax.yaxis.set_major_formatter(fmt)
    ax.grid(which="major", color=grid_col, linewidth=1.8)
    ax.set_axisbelow(True)
    ax.tick_params(which="major", direction="out", length=6, width=1.6, labelsize=18,
                   color="black", pad=4)
    ax.tick_params(which="minor", direction="out", length=4, width=1.3, color="black")
    ax.tick_params(axis="x", which="major", pad=8)
    for s in ax.spines.values():
        s.set_color("black")
        s.set_linewidth(2)


draw_panel(ax1, dlc_crem_upper + dlc_crem_lower,
           dlc_assist_upper + dlc_assist_low_a + dlc_assist_low_b,
           "#4A7EBB", "#C00000", dlc_power, dlc_force_at_full_speed, dlc_colors, 0.8, 38, 52)
draw_panel(ax2, mis_crem_top + mis_crem_mid + mis_crem_low,
           mis_assist_top + mis_assist_band + mis_assist_mid + mis_assist_core + mis_assist_core_fill,
           "#00007F", "#FF0000", mis_power, mis_force_at_full_speed, mis_colors, 1.0, 48, 54)

style_axes(ax1, 0.8, "#EDEADD")
style_axes(ax2, 1.0, "#EEEEEA")

for ax, anchor in [(ax1, (0.556, 1.0215)), (ax2, (0.59, 1.0255))]:
    h, l = ax.get_legend_handles_labels()
    leg = ax.legend(h, l, loc="upper left", bbox_to_anchor=anchor, borderaxespad=0,
                    prop={**bold, "size": 12.5}, frameon=True, fancybox=False,
                    edgecolor="black", framealpha=1, handlelength=3.4, handletextpad=0.3,
                    labelspacing=0.36, borderpad=0.3, markerscale=1.0)
    leg.get_frame().set_linewidth(1.4)
    leg.set_zorder(10)

fig.text(340 / 1225, 1 - 29 / 666, "Double lane change", ha="center", va="center",
         fontsize=22, **bold)
fig.text(971 / 1225, 1 - 24 / 666, "Misuse - Cicli di parcheggio", ha="center", va="center",
         fontsize=22, **bold)

for ax, xl, yl in [(ax1, (0.509, -0.131), (-0.14, 0.573)), (ax2, (0.547, -0.12), (-0.165, 0.566))]:
    ax.set_xlabel("Velocità cremagliera [normalizzata]", fontsize=20, **bold)
    ax.set_ylabel("Forza cremagliera [normalizzata]", fontsize=20, **bold)
    ax.xaxis.label.set_va("center")
    ax.yaxis.label.set_va("center")
    ax.xaxis.set_label_coords(*xl)
    ax.yaxis.set_label_coords(*yl)

fig.savefig("out.png", dpi=100)
